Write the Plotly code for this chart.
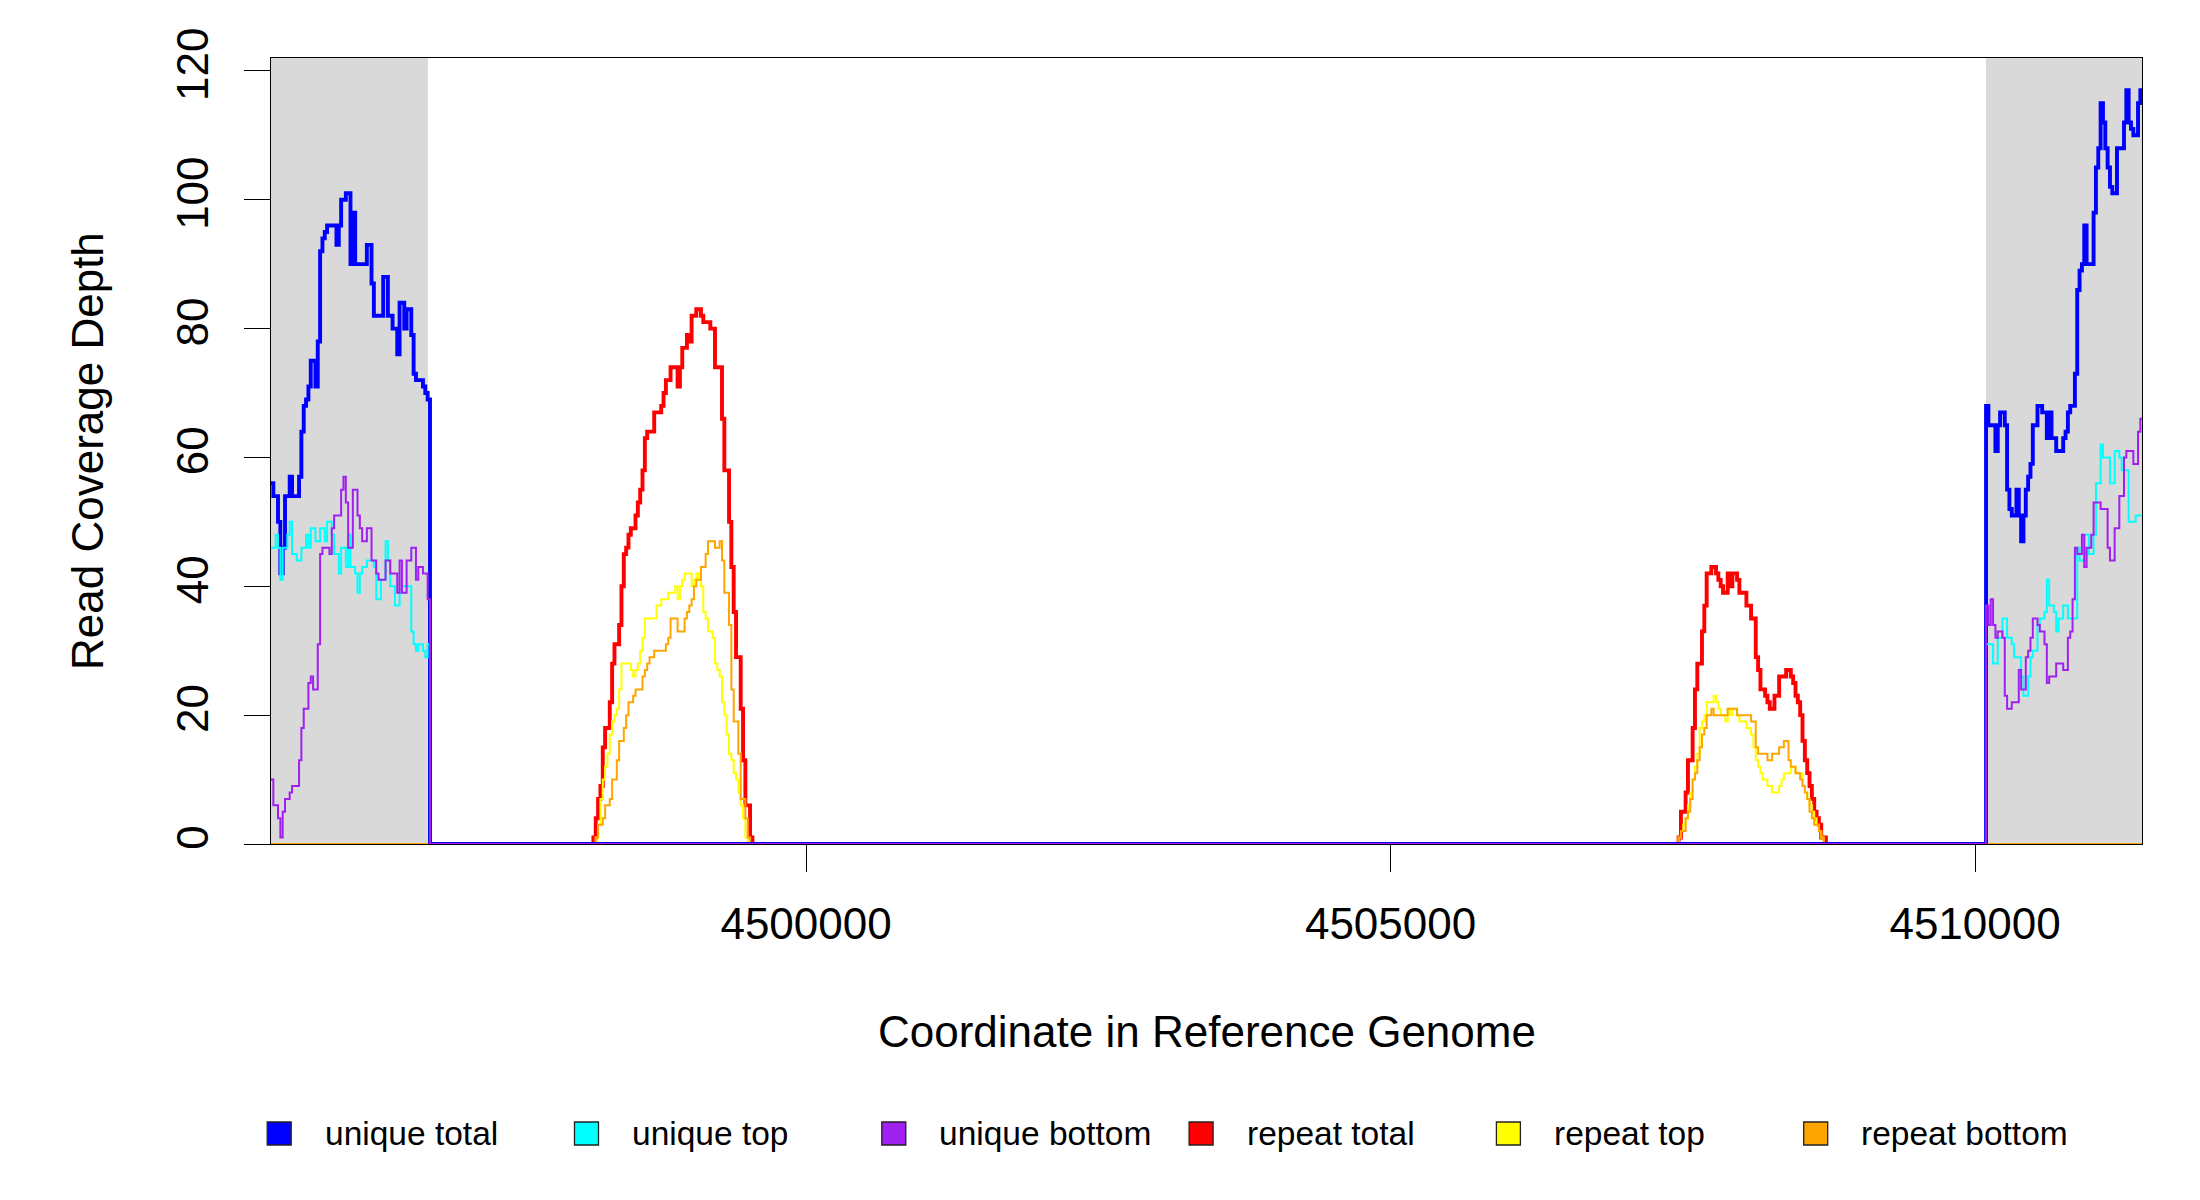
import plotly.graph_objects as go

# ---------------- data ----------------
BIN = 20  # bp per step
X_MIN, X_MAX = 4495423, 4511428
FLANK_LEFT_END = 4496765
FLANK_RIGHT_START = 4510094

LEFT_START = 4495423
RIGHT_START = 4510094
PEAK1_START = 4498181
PEAK2_START = 4507464

x_tick_values = [4500000, 4505000, 4510000]
x_tick_labels = ["4500000", "4505000", "4510000"]
y_tick_values = [0, 20, 40, 60, 80, 100, 120]

left_unique_total = [56, 54, 54, 50, 42, 46, 54, 54, 57, 54, 54, 54, 57, 64, 68, 69, 71, 75, 75, 71,
                     78, 92, 94, 95, 96, 96, 96, 96, 93, 96, 100, 100, 101, 101, 90, 98, 90, 90, 90, 90,
                     90, 93, 93, 87, 82, 82, 82, 82, 88, 88, 82, 82, 80, 80, 76, 84, 84, 80, 83, 83,
                     79, 73, 72, 72, 72, 71, 70, 69]
left_unique_top = [46, 46, 48, 46, 41, 46, 46, 48, 50, 45, 45, 44, 44, 46, 46, 48, 46, 49, 49, 47,
                   47, 49, 49, 47, 50, 50, 48, 45, 45, 42, 46, 46, 43, 48, 43, 43, 42, 39, 42, 43,
                   43, 44, 44, 44, 43, 38, 38, 41, 41, 47, 44, 40, 40, 37, 37, 39, 40, 40, 40, 40,
                   33, 31, 30, 31, 31, 30, 29, 31]
left_unique_bottom = [10, 6, 6, 4, 1, 5, 7, 7, 8, 9, 9, 9, 13, 18, 21, 21, 25, 26, 24, 24,
                      31, 45, 46, 46, 46, 45, 49, 51, 51, 51, 55, 57, 53, 46, 46, 55, 55, 51, 49, 47,
                      47, 49, 49, 44, 44, 42, 41, 41, 41, 44, 44, 42, 42, 42, 39, 44, 39, 39, 44, 44,
                      46, 46, 41, 43, 43, 42, 42, 38]

right_unique_total = [68, 65, 65, 65, 61, 65, 67, 67, 65, 55, 52, 51, 51, 55, 51, 47, 51, 55, 57, 59,
                      65, 65, 68, 68, 67, 67, 63, 67, 63, 63, 61, 61, 61, 63, 64, 67, 68, 68, 73, 86,
                      89, 90, 96, 90, 90, 90, 98, 105, 108, 115, 112, 108, 105, 102, 101, 101, 108, 108, 108, 112,
                      117, 112, 111, 110, 110, 115, 117]
right_unique_top = [31, 31, 31, 28, 28, 32, 32, 35, 35, 32, 32, 31, 29, 29, 29, 26, 23, 23, 26, 29,
                    30, 30, 34, 35, 35, 36, 41, 37, 37, 36, 33, 35, 35, 37, 37, 35, 35, 35, 35, 46,
                    44, 44, 48, 48, 45, 45, 48, 56, 56, 62, 60, 60, 60, 56, 56, 61, 61, 60, 58, 58,
                    58, 50, 50, 50, 51, 51, 51]
right_unique_bottom = [37, 34, 38, 34, 32, 33, 33, 32, 23, 21, 21, 22, 22, 22, 27, 24, 24, 29, 30, 32,
                       35, 35, 34, 33, 33, 31, 25, 26, 26, 26, 28, 28, 28, 27, 27, 32, 33, 38, 46, 45,
                       45, 48, 43, 46, 46, 48, 53, 53, 53, 52, 52, 52, 46, 44, 44, 49, 49, 54, 54, 60,
                       61, 61, 61, 59, 59, 64, 66]

peak1_repeat_total = [1, 4, 7, 9, 15, 18, 18, 22, 28, 31, 31, 34, 40, 45, 46, 48, 49, 49, 51, 53,
                      55, 58, 63, 64, 64, 64, 67, 67, 67, 68, 70, 72, 72, 74, 74, 74, 71, 74, 77, 77,
                      79, 78, 82, 82, 83, 83, 82, 81, 81, 81, 80, 80, 74, 74, 74, 66, 58, 58, 50, 43,
                      36, 29, 29, 21, 13, 6, 6, 1]
peak1_repeat_top = [0, 1, 3, 7, 10, 12, 14, 17, 19, 20, 21, 24, 28, 28, 28, 28, 27, 26, 27, 28,
                    30, 32, 35, 35, 35, 35, 35, 37, 37, 38, 38, 38, 39, 39, 39, 40, 38, 40, 41, 42,
                    42, 42, 40, 41, 42, 41, 40, 36, 35, 33, 33, 32, 28, 27, 26, 22, 20, 17, 14, 13,
                    11, 10, 8, 6, 4, 1, 0, 0]
peak1_repeat_bottom = [0, 1, 3, 3, 4, 6, 6, 7, 10, 10, 13, 16, 16, 18, 20, 22, 22, 23, 24, 24,
                       24, 26, 27, 28, 29, 29, 30, 30, 30, 30, 30, 31, 32, 35, 35, 35, 33, 33, 33, 35,
                       36, 37, 38, 40, 41, 41, 43, 43, 45, 47, 47, 47, 46, 46, 47, 44, 39, 39, 34, 24,
                       19, 19, 14, 7, 7, 4, 1, 0]

peak2_repeat_total = [1, 5, 5, 8, 13, 13, 18, 24, 28, 28, 33, 37, 42, 42, 43, 43, 42, 41, 40, 39,
                      39, 42, 40, 42, 42, 41, 39, 39, 39, 37, 37, 35, 35, 29, 27, 24, 24, 23, 22, 21,
                      21, 23, 23, 26, 26, 26, 27, 27, 26, 25, 23, 22, 20, 16, 13, 11, 9, 7, 5, 4,
                      3, 1, 1]
peak2_repeat_top = [1, 2, 3, 4, 6, 8, 10, 12, 14, 18, 19, 20, 22, 22, 22, 23, 22, 21, 20, 20,
                    19, 21, 20, 21, 21, 20, 19, 19, 19, 18, 18, 17, 15, 13, 12, 11, 10, 10, 9, 9,
                    8, 8, 8, 9, 10, 11, 11, 11, 12, 12, 11, 11, 11, 9, 8, 7, 6, 5, 4, 3,
                    2, 1, 0]
peak2_repeat_bottom = [1, 2, 2, 4, 5, 7, 10, 11, 13, 15, 17, 18, 20, 20, 21, 20, 20, 20, 20, 20,
                       20, 21, 21, 21, 21, 20, 20, 20, 20, 20, 20, 19, 19, 15, 14, 14, 14, 14, 13, 13,
                       14, 14, 14, 15, 15, 16, 16, 13, 12, 12, 11, 11, 10, 9, 8, 7, 5, 4, 3, 3,
                       2, 1, 0]

series_names = ["unique total", "unique top", "unique bottom",
                "repeat total", "repeat top", "repeat bottom"]
series_colors = ["#0000FF", "#00FFFF", "#A020F0", "#FF0000", "#FFFF00", "#FFA500"]


# ---------------- helpers ----------------
def step_series(segments, lo=X_MIN, hi=X_MAX):
    xs, ys = [], []
    if not segments or segments[0][0] > lo:
        xs.append(lo)
        ys.append(0)
    for start, vals in segments:
        for i, v in enumerate(vals):
            xs.append(start + i * BIN)
            ys.append(v)
        end = start + len(vals) * BIN
        if end < hi:
            xs.append(end)
            ys.append(0)
        else:
            xs.append(hi)
            ys.append(vals[-1])
    if xs[-1] < hi:
        xs.append(hi)
        ys.append(0)
    return xs, ys


unique_segments = {
    "unique total": [(LEFT_START, left_unique_total), (RIGHT_START, right_unique_total)],
    "unique top": [(LEFT_START, left_unique_top), (RIGHT_START, right_unique_top)],
    "unique bottom": [(LEFT_START, left_unique_bottom), (RIGHT_START, right_unique_bottom)],
}
repeat_segments = {
    "repeat total": [(PEAK1_START, peak1_repeat_total), (PEAK2_START, peak2_repeat_total)],
    "repeat top": [(PEAK1_START, peak1_repeat_top), (PEAK2_START, peak2_repeat_top)],
    "repeat bottom": [(PEAK1_START, peak1_repeat_bottom), (PEAK2_START, peak2_repeat_bottom)],
}
widths = {"unique total": 3.9, "repeat total": 3.9}
# the thick repeat-total zero line is hidden under the thin ones in the grey flanks
extent = {"repeat total": (FLANK_LEFT_END, FLANK_RIGHT_START)}

fig = go.Figure()
draw_order = ["repeat total", "repeat top", "repeat bottom",
              "unique total", "unique top", "unique bottom"]
for name in draw_order:
    segs = repeat_segments.get(name) or unique_segments.get(name)
    lo, hi = extent.get(name, (X_MIN, X_MAX))
    xs, ys = step_series(segs, lo, hi)
    color = series_colors[series_names.index(name)]
    fig.add_trace(go.Scatter(
        x=xs, y=ys, mode="lines", name=name, showlegend=False,
        line=dict(color=color, width=widths.get(name, 2.0), shape="hv"),
        hoverinfo="skip"))

# ---------------- layout ----------------
# the page body has an 8px margin, so the figure is drawn 8px smaller and
# page coordinates are converted by subtracting that offset
OFF = 8
W, H = 2200 - OFF, 1200 - OFF
PL, PR, PT, PB = 271, 2142, 58, 844          # plot box in page pixels
ML, MR, MT, MB = PL - OFF, W - (PR - OFF), PT - OFF, H - (PB - OFF)
PW, PH = PR - PL, PB - PT


def px(xp):
    return (xp - PL) / PW


def py(yp):
    return (PB - yp) / PH


FONT = "Liberation Sans, Arial, Helvetica, sans-serif"

shapes = [
    dict(type="rect", xref="x", yref="paper", x0=X_MIN, x1=FLANK_LEFT_END, y0=0, y1=1,
         fillcolor="#D9D9D9", line=dict(width=0), layer="below"),
    dict(type="rect", xref="x", yref="paper", x0=FLANK_RIGHT_START, x1=X_MAX, y0=0, y1=1,
         fillcolor="#D9D9D9", line=dict(width=0), layer="below"),
]
annotations = [
    dict(text="Coordinate in Reference Genome", xref="paper", yref="paper",
         x=px(1206.6), y=py(1031), xanchor="center", yanchor="middle", showarrow=False,
         font=dict(family=FONT, size=44, color="black")),
    dict(text="Read Coverage Depth", xref="paper", yref="paper",
         x=px(87), y=py(451), xanchor="center", yanchor="middle", textangle=-90, showarrow=False,
         font=dict(family=FONT, size=44, color="black")),
]

# legend (filled squares + labels, R style)
for k, name in enumerate(series_names):
    cx = 279.2 + k * 307.3
    shapes.append(dict(type="rect", xref="paper", yref="paper",
                       x0=px(cx - 12), x1=px(cx + 12), y0=py(1145), y1=py(1122),
                       fillcolor=series_colors[k], line=dict(color="#222222", width=1.3)))
    annotations.append(dict(text=name, xref="paper", yref="paper",
                            x=px(cx + 43.5), y=py(1133), xanchor="left", yanchor="middle",
                            showarrow=False, font=dict(family=FONT, size=33.5, color="black")))

fig.update_layout(
    width=W, height=H,
    margin=dict(l=ML, r=MR, t=MT, b=MB, pad=0),
    paper_bgcolor="white", plot_bgcolor="white",
    font=dict(family=FONT, color="black"),
    showlegend=False,
    shapes=shapes, annotations=annotations,
    xaxis=dict(range=[X_MIN, X_MAX], showgrid=False, zeroline=False,
               showline=True, mirror=True, linecolor="black", linewidth=1.3,
               ticks="outside", ticklen=27, tickwidth=1.3, tickcolor="black",
               tickvals=x_tick_values, ticktext=x_tick_labels,
               tickfont=dict(family=FONT, size=44, color="black"),
               ticklabelstandoff=14),
    yaxis=dict(range=[0, 122], showgrid=False, zeroline=False,
               showline=True, mirror=True, linecolor="black", linewidth=1.3,
               ticks="outside", ticklen=26, tickwidth=1.3, tickcolor="black",
               tickvals=y_tick_values, tickangle=-90,
               tickfont=dict(family=FONT, size=44, color="black"),
               ticklabelstandoff=18),
)

fig.write_html("out.html")
